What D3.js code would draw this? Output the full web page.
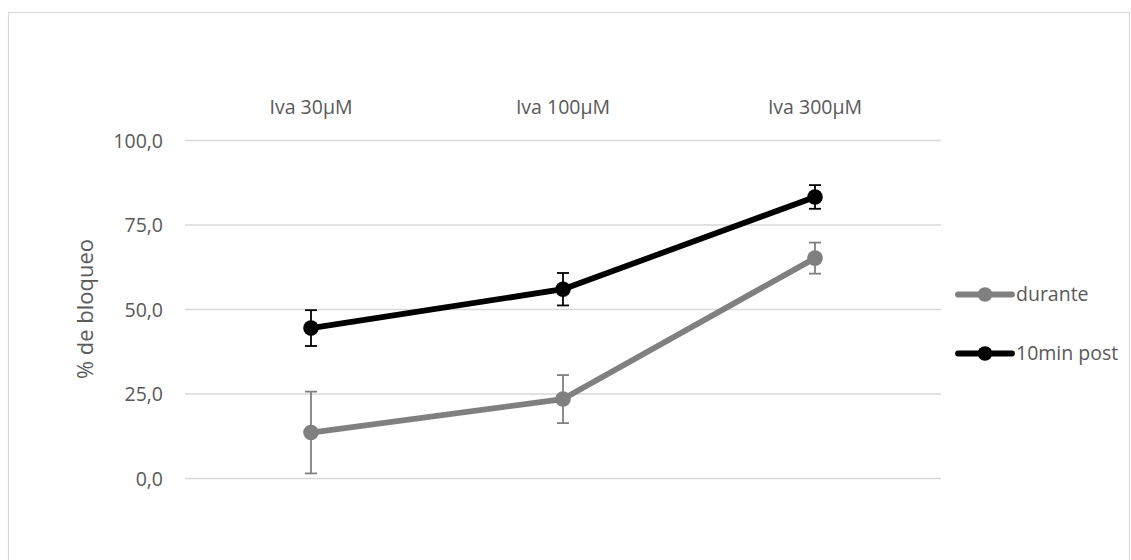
<!DOCTYPE html>
<html><head><meta charset="utf-8">
<script src="https://cdn.jsdelivr.net/npm/d3@7"></script>
<style>body{margin:0;background:#fff}svg{display:block}text{font-family:"Open Sans","Liberation Sans",sans-serif;fill:#595959}</style>
</head><body><svg id="c" width="1131" height="560"></svg>
<script>
const categories = ["Iva 30µM","Iva 100µM","Iva 300µM"];
const seriesNames = ["durante","10min post"];
const duranteVals = [13.6, 23.5, 65.2];
const duranteErr = [12.1, 7.1, 4.6];
const postVals = [44.5, 56.0, 83.3];
const postErr = [5.3, 4.8, 3.5];
const yTicks = [0,25,50,75,100];
const colors = ["#808080","#000000"];

const svg = d3.select("#c");
svg.append("rect").attr("x",8.5).attr("y",12.5).attr("width",1121).attr("height",560).attr("fill","#fff").attr("stroke","#d9d9d9").attr("stroke-width",1.2);

const x = d3.scaleBand().domain(categories).range([185,941]);
const y = d3.scaleLinear().domain([0,100]).range([478.5,140.5]);

const grid = svg.append("g");
yTicks.forEach(t=>{
  grid.append("line").attr("x1",185).attr("x2",941).attr("y1",y(t)).attr("y2",y(t)).attr("stroke","#d9d9d9").attr("stroke-width",1.3);
});
const yAxis = d3.axisLeft(y).tickValues(yTicks).tickSize(0).tickPadding(0).tickFormat(d=>d3.format(".1f")(d).replace(".",","));
const ga = svg.append("g").attr("transform","translate(163,0)").call(yAxis);
ga.select(".domain").remove();
ga.selectAll("text").style("font-size","19.5px").style("font-family",'"Open Sans",sans-serif').attr("fill","#595959").attr("dy","0.35em");

svg.append("text").attr("transform","translate(85,309) rotate(-90)").attr("text-anchor","middle").attr("dy","0.35em").style("font-size","22px").text("% de bloqueo");

svg.selectAll(".cat").data(categories).enter().append("text").attr("x",d=>x(d)+x.bandwidth()/2).attr("y",107).attr("dy","0.35em").attr("text-anchor","middle").style("font-size","19.5px").text(d=>d);

const series = [
  {name:seriesNames[0], vals:duranteVals, err:duranteErr, color:colors[0]},
  {name:seriesNames[1], vals:postVals, err:postErr, color:colors[1]}
];
const cx = d=>x(d)+x.bandwidth()/2;
series.forEach(s=>{
  const g = svg.append("g");
  const pts = categories.map((c,i)=>({c,v:s.vals[i],e:s.err[i]}));
  pts.forEach(p=>{
    g.append("line").attr("x1",cx(p.c)).attr("x2",cx(p.c)).attr("y1",y(p.v-p.e)).attr("y2",y(p.v+p.e)).attr("stroke",s.color).attr("stroke-width",1.8);
    [p.v-p.e,p.v+p.e].forEach(v=>g.append("line").attr("x1",cx(p.c)-6).attr("x2",cx(p.c)+6).attr("y1",y(v)).attr("y2",y(v)).attr("stroke",s.color).attr("stroke-width",1.8));
  });
  g.append("path").datum(pts).attr("d",d3.line().x(p=>cx(p.c)).y(p=>y(p.v))).attr("fill","none").attr("stroke",s.color).attr("stroke-width",5.8).attr("stroke-linejoin","round");
  g.selectAll("circle").data(pts).enter().append("circle").attr("cx",p=>cx(p.c)).attr("cy",p=>y(p.v)).attr("r",7.8).attr("fill",s.color);
});

const leg = svg.append("g");
series.forEach((s,i)=>{
  const ly = 294.5 + i*59;
  leg.append("line").attr("x1",958).attr("x2",1012).attr("y1",ly).attr("y2",ly).attr("stroke",s.color).attr("stroke-width",5.8).attr("stroke-linecap","round");
  leg.append("circle").attr("cx",985).attr("cy",ly).attr("r",7.3).attr("fill",s.color);
  leg.append("text").attr("x",1016).attr("y",ly).attr("dy","0.35em").style("font-size","19.5px").text(s.name);
});
</script></body></html>
